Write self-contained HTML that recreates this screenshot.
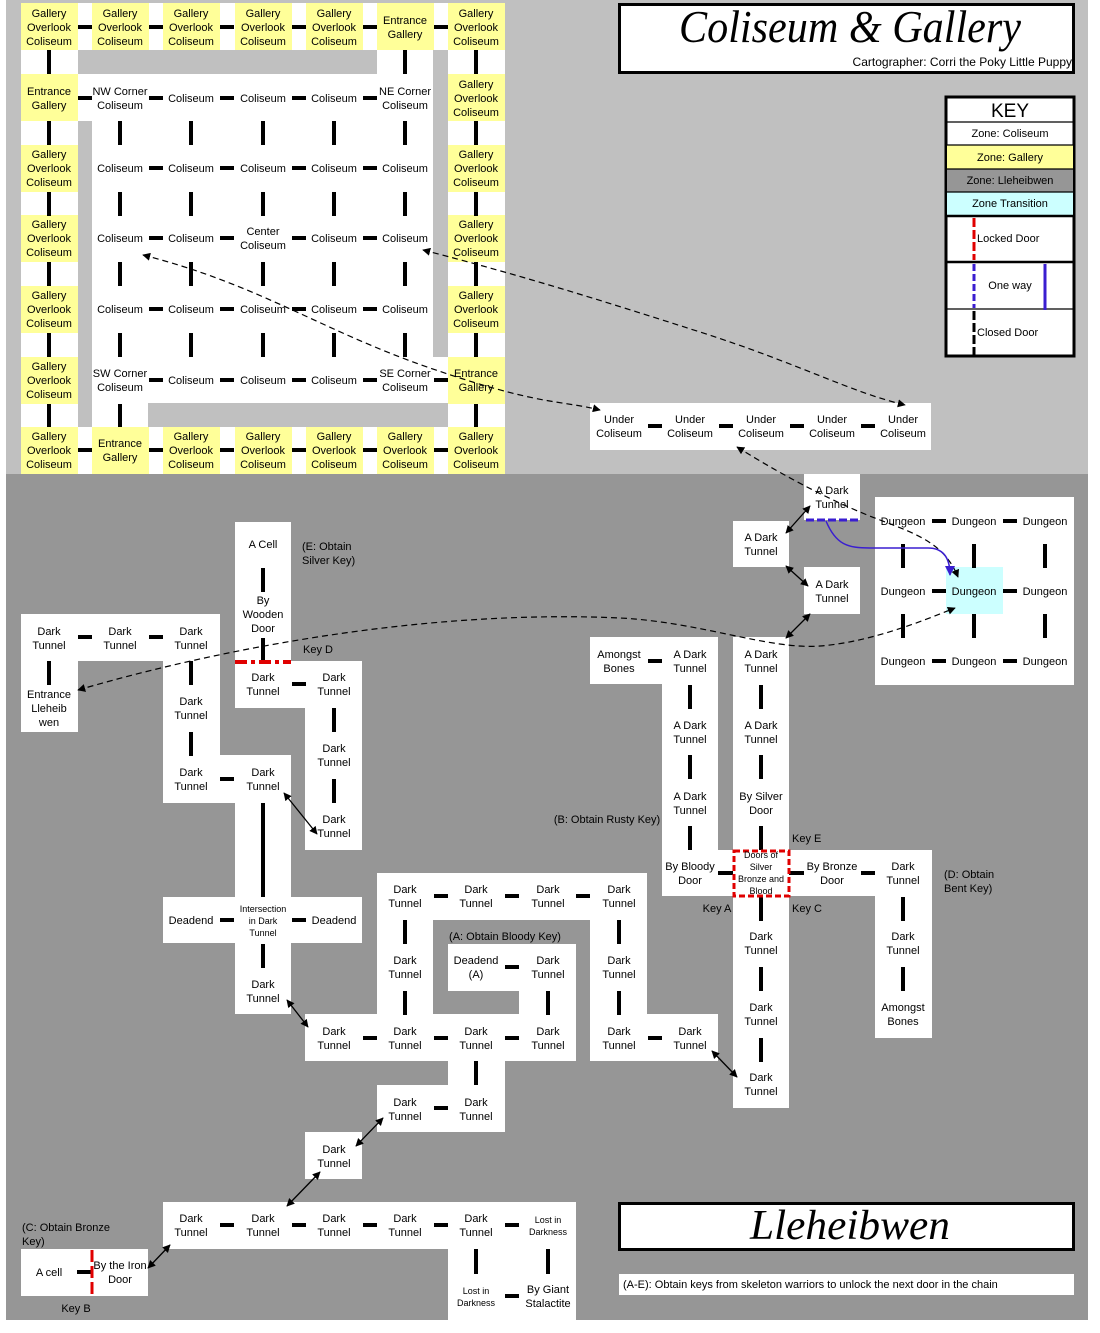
<!DOCTYPE html>
<html><head><meta charset="utf-8"><style>
html,body{margin:0;padding:0;background:#fff;}
svg{display:block;}
text{font-family:"Liberation Sans",Arial,sans-serif;font-size:11px;fill:#000;text-anchor:middle;}
.l{text-anchor:start;}
.s{font-size:9px;}
</style></head><body>
<svg width="1100" height="1333" viewBox="0 0 1100 1333" xmlns="http://www.w3.org/2000/svg">
<defs>
<marker id="ah" viewBox="0 0 10 10" refX="9" refY="5" markerWidth="8" markerHeight="8" markerUnits="userSpaceOnUse" orient="auto-start-reverse"><path d="M0,0 L10,5 L0,10 z" fill="#000"/></marker>
<marker id="ab" viewBox="0 0 10 10" refX="9" refY="5" markerWidth="10" markerHeight="10" markerUnits="userSpaceOnUse" orient="auto"><path d="M0,0 L10,5 L0,10 z" fill="#3a1ed0"/></marker>
</defs>
<!-- backgrounds -->
<rect x="6" y="0" width="1082" height="474" fill="#c0c0c0"/>
<rect x="6" y="474" width="1082" height="846" fill="#969696"/>

<!-- Coliseum white -->
<rect x="21" y="3" width="484" height="471" fill="#fff"/>
<g fill="#c0c0c0">
<rect x="78" y="50" width="299" height="24"/>
<rect x="433" y="50" width="15" height="307"/>
<rect x="78" y="121" width="14" height="306"/>
<rect x="148" y="403" width="300" height="24"/>
</g>
<!-- yellow cells -->
<g fill="#ffff99">
<rect x="21" y="3" width="57" height="47"/><rect x="92" y="3" width="57" height="47"/><rect x="163" y="3" width="57" height="47"/><rect x="235" y="3" width="57" height="47"/><rect x="306" y="3" width="57" height="47"/><rect x="377" y="3" width="57" height="47"/><rect x="448" y="3" width="57" height="47"/>
<rect x="21" y="427" width="57" height="47"/><rect x="92" y="427" width="57" height="47"/><rect x="163" y="427" width="57" height="47"/><rect x="235" y="427" width="57" height="47"/><rect x="306" y="427" width="57" height="47"/><rect x="377" y="427" width="57" height="47"/><rect x="448" y="427" width="57" height="47"/>
<rect x="21" y="74" width="57" height="47"/><rect x="21" y="145" width="57" height="47"/><rect x="21" y="215" width="57" height="47"/><rect x="21" y="286" width="57" height="47"/><rect x="21" y="357" width="57" height="47"/>
<rect x="448" y="74" width="57" height="47"/><rect x="448" y="145" width="57" height="47"/><rect x="448" y="215" width="57" height="47"/><rect x="448" y="286" width="57" height="47"/><rect x="448" y="357" width="57" height="47"/>
</g>
<!-- top bars -->
<g fill="#000">
<!-- row0 & row6 horizontals -->
<rect x="78" y="25" width="14" height="4"/><rect x="149" y="25" width="14" height="4"/><rect x="220" y="25" width="14" height="4"/><rect x="292" y="25" width="14" height="4"/><rect x="363" y="25" width="14" height="4"/><rect x="434" y="25" width="14" height="4"/>
<rect x="78" y="448" width="14" height="4"/><rect x="149" y="448" width="14" height="4"/><rect x="220" y="448" width="14" height="4"/><rect x="292" y="448" width="14" height="4"/><rect x="363" y="448" width="14" height="4"/><rect x="434" y="448" width="14" height="4"/>
<!-- row1 -->
<rect x="78" y="96" width="14" height="4"/><rect x="149" y="96" width="14" height="4"/><rect x="220" y="96" width="14" height="4"/><rect x="292" y="96" width="14" height="4"/><rect x="363" y="96" width="14" height="4"/>
<!-- rows 2-4 -->
<rect x="149" y="166" width="14" height="4"/><rect x="220" y="166" width="14" height="4"/><rect x="292" y="166" width="14" height="4"/><rect x="363" y="166" width="14" height="4"/>
<rect x="149" y="236" width="14" height="4"/><rect x="220" y="236" width="14" height="4"/><rect x="292" y="236" width="14" height="4"/><rect x="363" y="236" width="14" height="4"/>
<rect x="149" y="307" width="14" height="4"/><rect x="220" y="307" width="14" height="4"/><rect x="292" y="307" width="14" height="4"/><rect x="363" y="307" width="14" height="4"/>
<!-- row5 -->
<rect x="149" y="378" width="14" height="4"/><rect x="220" y="378" width="14" height="4"/><rect x="292" y="378" width="14" height="4"/><rect x="363" y="378" width="14" height="4"/><rect x="434" y="378" width="14" height="4"/>
<!-- verticals col49 & col476 -->
<rect x="47" y="50" width="4" height="24"/><rect x="47" y="121" width="4" height="24"/><rect x="47" y="192" width="4" height="24"/><rect x="47" y="262" width="4" height="24"/><rect x="47" y="333" width="4" height="24"/><rect x="47" y="404" width="4" height="23"/>
<rect x="474" y="50" width="4" height="24"/><rect x="474" y="121" width="4" height="24"/><rect x="474" y="192" width="4" height="24"/><rect x="474" y="262" width="4" height="24"/><rect x="474" y="333" width="4" height="24"/><rect x="474" y="404" width="4" height="23"/>
<rect x="403" y="50" width="4" height="24"/><rect x="118" y="404" width="4" height="23"/>
<!-- interior verticals -->
<rect x="118" y="121" width="4" height="24"/><rect x="189" y="121" width="4" height="24"/><rect x="261" y="121" width="4" height="24"/><rect x="332" y="121" width="4" height="24"/><rect x="403" y="121" width="4" height="24"/>
<rect x="118" y="192" width="4" height="24"/><rect x="189" y="192" width="4" height="24"/><rect x="261" y="192" width="4" height="24"/><rect x="332" y="192" width="4" height="24"/><rect x="403" y="192" width="4" height="24"/>
<rect x="118" y="262" width="4" height="24"/><rect x="189" y="262" width="4" height="24"/><rect x="261" y="262" width="4" height="24"/><rect x="332" y="262" width="4" height="24"/><rect x="403" y="262" width="4" height="24"/>
<rect x="118" y="333" width="4" height="24"/><rect x="189" y="333" width="4" height="24"/><rect x="261" y="333" width="4" height="24"/><rect x="332" y="333" width="4" height="24"/><rect x="403" y="333" width="4" height="24"/>
</g>
<!-- top texts -->
<g>
<text x="49" y="17">Gallery<tspan x="49" dy="14">Overlook</tspan><tspan x="49" dy="14">Coliseum</tspan></text>
<text x="120" y="17">Gallery<tspan x="120" dy="14">Overlook</tspan><tspan x="120" dy="14">Coliseum</tspan></text>
<text x="191" y="17">Gallery<tspan x="191" dy="14">Overlook</tspan><tspan x="191" dy="14">Coliseum</tspan></text>
<text x="263" y="17">Gallery<tspan x="263" dy="14">Overlook</tspan><tspan x="263" dy="14">Coliseum</tspan></text>
<text x="334" y="17">Gallery<tspan x="334" dy="14">Overlook</tspan><tspan x="334" dy="14">Coliseum</tspan></text>
<text x="405" y="24">Entrance<tspan x="405" dy="14">Gallery</tspan></text>
<text x="476" y="17">Gallery<tspan x="476" dy="14">Overlook</tspan><tspan x="476" dy="14">Coliseum</tspan></text>

<text x="49" y="95">Entrance<tspan x="49" dy="14">Gallery</tspan></text>
<text x="120" y="95">NW Corner<tspan x="120" dy="14">Coliseum</tspan></text>
<text x="191" y="102">Coliseum</text><text x="263" y="102">Coliseum</text><text x="334" y="102">Coliseum</text>
<text x="405" y="95">NE Corner<tspan x="405" dy="14">Coliseum</tspan></text>
<text x="476" y="88">Gallery<tspan x="476" dy="14">Overlook</tspan><tspan x="476" dy="14">Coliseum</tspan></text>

<text x="49" y="158">Gallery<tspan x="49" dy="14">Overlook</tspan><tspan x="49" dy="14">Coliseum</tspan></text>
<text x="120" y="172">Coliseum</text><text x="191" y="172">Coliseum</text><text x="263" y="172">Coliseum</text><text x="334" y="172">Coliseum</text><text x="405" y="172">Coliseum</text>
<text x="476" y="158">Gallery<tspan x="476" dy="14">Overlook</tspan><tspan x="476" dy="14">Coliseum</tspan></text>

<text x="49" y="228">Gallery<tspan x="49" dy="14">Overlook</tspan><tspan x="49" dy="14">Coliseum</tspan></text>
<text x="120" y="242">Coliseum</text><text x="191" y="242">Coliseum</text>
<text x="263" y="235">Center<tspan x="263" dy="14">Coliseum</tspan></text>
<text x="334" y="242">Coliseum</text><text x="405" y="242">Coliseum</text>
<text x="476" y="228">Gallery<tspan x="476" dy="14">Overlook</tspan><tspan x="476" dy="14">Coliseum</tspan></text>

<text x="49" y="299">Gallery<tspan x="49" dy="14">Overlook</tspan><tspan x="49" dy="14">Coliseum</tspan></text>
<text x="120" y="313">Coliseum</text><text x="191" y="313">Coliseum</text><text x="263" y="313">Coliseum</text><text x="334" y="313">Coliseum</text><text x="405" y="313">Coliseum</text>
<text x="476" y="299">Gallery<tspan x="476" dy="14">Overlook</tspan><tspan x="476" dy="14">Coliseum</tspan></text>

<text x="49" y="370">Gallery<tspan x="49" dy="14">Overlook</tspan><tspan x="49" dy="14">Coliseum</tspan></text>
<text x="120" y="377">SW Corner<tspan x="120" dy="14">Coliseum</tspan></text>
<text x="191" y="384">Coliseum</text><text x="263" y="384">Coliseum</text><text x="334" y="384">Coliseum</text>
<text x="405" y="377">SE Corner<tspan x="405" dy="14">Coliseum</tspan></text>
<text x="476" y="377">Entrance<tspan x="476" dy="14">Gallery</tspan></text>

<text x="49" y="440">Gallery<tspan x="49" dy="14">Overlook</tspan><tspan x="49" dy="14">Coliseum</tspan></text>
<text x="120" y="447">Entrance<tspan x="120" dy="14">Gallery</tspan></text>
<text x="191" y="440">Gallery<tspan x="191" dy="14">Overlook</tspan><tspan x="191" dy="14">Coliseum</tspan></text>
<text x="263" y="440">Gallery<tspan x="263" dy="14">Overlook</tspan><tspan x="263" dy="14">Coliseum</tspan></text>
<text x="334" y="440">Gallery<tspan x="334" dy="14">Overlook</tspan><tspan x="334" dy="14">Coliseum</tspan></text>
<text x="405" y="440">Gallery<tspan x="405" dy="14">Overlook</tspan><tspan x="405" dy="14">Coliseum</tspan></text>
<text x="476" y="440">Gallery<tspan x="476" dy="14">Overlook</tspan><tspan x="476" dy="14">Coliseum</tspan></text>
</g>

<!-- Title box -->
<rect x="619.5" y="4.5" width="454" height="68" fill="#fff" stroke="#000" stroke-width="3"/>
<text x="850" y="42" style="font-family:'Liberation Serif',serif;font-style:italic;font-size:46px;" textLength="342" lengthAdjust="spacingAndGlyphs">Coliseum &amp; Gallery</text>
<text x="1072" y="66" style="text-anchor:end;font-size:12px;">Cartographer: Corri the Poky Little Puppy</text>

<!-- KEY -->
<rect x="946" y="97" width="128" height="259" fill="#fff" stroke="#000" stroke-width="3"/>
<rect x="947" y="145" width="126" height="24" fill="#ffff99"/>
<rect x="947" y="169" width="126" height="23" fill="#969696"/>
<rect x="947" y="192" width="126" height="23" fill="#ccffff"/>
<g stroke="#000" stroke-width="1.2">
<line x1="946" y1="122" x2="1074" y2="122"/><line x1="946" y1="145" x2="1074" y2="145"/><line x1="946" y1="169" x2="1074" y2="169"/><line x1="946" y1="192" x2="1074" y2="192"/>
</g>
<g stroke="#000" stroke-width="2.5">
<line x1="946" y1="216" x2="1074" y2="216"/><line x1="946" y1="262" x2="1074" y2="262"/>
</g>
<line x1="946" y1="309" x2="1074" y2="309" stroke="#000" stroke-width="1.2"/>
<text x="1010" y="117" style="font-size:19px;">KEY</text>
<text x="1010" y="137">Zone: Coliseum</text>
<text x="1010" y="161">Zone: Gallery</text>
<text x="1010" y="184">Zone: Lleheibwen</text>
<text x="1010" y="207">Zone Transition</text>
<line x1="974" y1="218" x2="974" y2="260" stroke="#e00000" stroke-width="3" stroke-dasharray="9,3"/>
<text class="l" x="977" y="242">Locked Door</text>
<line x1="974" y1="264" x2="974" y2="308" stroke="#3a1ed0" stroke-width="3" stroke-dasharray="7,3"/>
<line x1="1045" y1="264" x2="1045" y2="310" stroke="#3a1ed0" stroke-width="3"/>
<text x="1010" y="289">One way</text>
<line x1="974" y1="311" x2="974" y2="355" stroke="#000" stroke-width="3" stroke-dasharray="9,3"/>
<text class="l" x="977" y="336">Closed Door</text>

<!-- Under coliseum -->
<rect x="590" y="403" width="341" height="47" fill="#fff"/>
<g fill="#000">
<rect x="648" y="424" width="14" height="4"/><rect x="719" y="424" width="14" height="4"/><rect x="790" y="424" width="14" height="4"/><rect x="861" y="424" width="14" height="4"/>
</g>
<text x="619" y="423">Under<tspan x="619" dy="14">Coliseum</tspan></text>
<text x="690" y="423">Under<tspan x="690" dy="14">Coliseum</tspan></text>
<text x="761" y="423">Under<tspan x="761" dy="14">Coliseum</tspan></text>
<text x="832" y="423">Under<tspan x="832" dy="14">Coliseum</tspan></text>
<text x="903" y="423">Under<tspan x="903" dy="14">Coliseum</tspan></text>

<!-- bottom white regions -->
<g fill="#fff">
<rect x="804" y="474" width="56" height="46"/>
<rect x="733" y="521" width="56" height="46"/>
<rect x="804" y="567" width="56" height="47"/>
<rect x="875" y="497" width="199" height="188"/>
<rect x="235" y="522" width="56" height="186"/><rect x="235" y="661" width="127" height="47"/><rect x="305" y="661" width="57" height="189"/>
<rect x="21" y="614" width="199" height="47"/><rect x="21" y="661" width="57" height="71"/><rect x="163" y="614" width="57" height="189"/><rect x="163" y="755" width="128" height="48"/><rect x="235" y="755" width="56" height="259"/><rect x="163" y="897" width="199" height="46"/>
<rect x="377" y="873" width="270" height="47"/><rect x="377" y="873" width="56" height="188"/><rect x="305" y="1014" width="271" height="47"/><rect x="448" y="944" width="71" height="47"/><rect x="519" y="944" width="57" height="117"/><rect x="590" y="873" width="57" height="188"/><rect x="590" y="1014" width="128" height="47"/><rect x="448" y="1061" width="57" height="71"/><rect x="377" y="1085" width="128" height="47"/>
<rect x="305" y="1132" width="57" height="47"/>
<rect x="163" y="1202" width="413" height="47"/><rect x="448" y="1249" width="128" height="71"/>
<rect x="21" y="1249" width="127" height="47"/>
<rect x="590" y="637" width="128" height="47"/><rect x="662" y="637" width="56" height="259"/><rect x="733" y="637" width="56" height="471"/><rect x="662" y="850" width="270" height="46"/><rect x="875" y="850" width="57" height="188"/>
</g>
<rect x="946" y="567" width="57" height="47" fill="#ccffff"/>

<!-- bottom bars -->
<g fill="#000">
<!-- dungeon -->
<rect x="932" y="519" width="14" height="4"/><rect x="1003" y="519" width="14" height="4"/>
<rect x="932" y="589" width="14" height="4"/><rect x="1003" y="589" width="14" height="4"/>
<rect x="932" y="659" width="14" height="4"/><rect x="1003" y="659" width="14" height="4"/>
<rect x="901" y="544" width="4" height="24"/><rect x="972" y="544" width="4" height="24"/><rect x="1043" y="544" width="4" height="24"/>
<rect x="901" y="614" width="4" height="24"/><rect x="972" y="614" width="4" height="24"/><rect x="1043" y="614" width="4" height="24"/>
<!-- region A -->
<rect x="261" y="568" width="4" height="24"/><rect x="261" y="638" width="4" height="23"/>
<rect x="292" y="682" width="14" height="4"/>
<rect x="332" y="708" width="4" height="24"/><rect x="332" y="779" width="4" height="24"/>
<!-- region B -->
<rect x="78" y="635" width="14" height="4"/><rect x="149" y="635" width="14" height="4"/>
<rect x="47" y="661" width="4" height="24"/>
<rect x="189" y="661" width="4" height="24"/><rect x="189" y="732" width="4" height="24"/>
<rect x="220" y="777" width="14" height="4"/>
<rect x="261" y="803" width="4" height="94"/>
<rect x="220" y="918" width="14" height="4"/><rect x="292" y="918" width="14" height="4"/>
<rect x="261" y="944" width="4" height="24"/>
<!-- region C -->
<rect x="434" y="894" width="14" height="4"/><rect x="505" y="894" width="14" height="4"/><rect x="576" y="894" width="14" height="4"/>
<rect x="403" y="920" width="4" height="24"/><rect x="403" y="991" width="4" height="24"/>
<rect x="505" y="965" width="14" height="4"/>
<rect x="546" y="991" width="4" height="24"/>
<rect x="617" y="920" width="4" height="24"/><rect x="617" y="991" width="4" height="24"/>
<rect x="363" y="1036" width="14" height="4"/><rect x="434" y="1036" width="14" height="4"/><rect x="505" y="1036" width="14" height="4"/><rect x="648" y="1036" width="14" height="4"/>
<rect x="474" y="1061" width="4" height="24"/>
<rect x="434" y="1106" width="14" height="4"/>
<!-- row 1225 -->
<rect x="220" y="1223" width="14" height="4"/><rect x="292" y="1223" width="14" height="4"/><rect x="363" y="1223" width="14" height="4"/><rect x="434" y="1223" width="14" height="4"/><rect x="505" y="1223" width="14" height="4"/>
<rect x="474" y="1249" width="4" height="25"/><rect x="546" y="1249" width="4" height="25"/>
<rect x="505" y="1294" width="14" height="4"/>
<rect x="77" y="1270" width="14" height="4"/>
<!-- right region -->
<rect x="648" y="659" width="14" height="4"/>
<rect x="688" y="685" width="4" height="24"/><rect x="688" y="755" width="4" height="24"/><rect x="688" y="826" width="4" height="24"/>
<rect x="759" y="685" width="4" height="24"/><rect x="759" y="755" width="4" height="24"/><rect x="759" y="826" width="4" height="24"/>
<rect x="759" y="897" width="4" height="24"/><rect x="759" y="967" width="4" height="24"/><rect x="759" y="1038" width="4" height="24"/>
<rect x="718" y="871" width="15" height="4"/><rect x="789" y="871" width="15" height="4"/><rect x="861" y="871" width="14" height="4"/>
<rect x="901" y="897" width="4" height="24"/><rect x="901" y="967" width="4" height="24"/>
</g>

<!-- doors -->
<line x1="235" y1="662" x2="291" y2="662" stroke="#e00000" stroke-width="4" stroke-dasharray="12,4,4,4"/>
<rect x="734" y="851" width="55" height="45" fill="none" stroke="#e00000" stroke-width="3" stroke-dasharray="6,3"/>
<line x1="92" y1="1250" x2="92" y2="1296" stroke="#e00000" stroke-width="3" stroke-dasharray="12,4"/>
<line x1="806" y1="520" x2="860" y2="520" stroke="#3a1ed0" stroke-width="3" stroke-dasharray="8,3"/>

<!-- bottom texts -->
<g>
<text x="832" y="494">A Dark<tspan x="832" dy="14">Tunnel</tspan></text>
<text x="761" y="541">A Dark<tspan x="761" dy="14">Tunnel</tspan></text>
<text x="832" y="588">A Dark<tspan x="832" dy="14">Tunnel</tspan></text>
<text x="903" y="525">Dungeon</text><text x="974" y="525">Dungeon</text><text x="1045" y="525">Dungeon</text>
<text x="903" y="595">Dungeon</text><text x="974" y="595">Dungeon</text><text x="1045" y="595">Dungeon</text>
<text x="903" y="665">Dungeon</text><text x="974" y="665">Dungeon</text><text x="1045" y="665">Dungeon</text>

<text x="263" y="548">A Cell</text>
<text class="l" x="302" y="550">(E: Obtain<tspan x="302" dy="14">Silver Key)</tspan></text>
<text x="263" y="604">By<tspan x="263" dy="14">Wooden</tspan><tspan x="263" dy="14">Door</tspan></text>
<text class="l" x="303" y="653">Key D</text>
<text x="263" y="681">Dark<tspan x="263" dy="14">Tunnel</tspan></text>
<text x="334" y="681">Dark<tspan x="334" dy="14">Tunnel</tspan></text>
<text x="334" y="752">Dark<tspan x="334" dy="14">Tunnel</tspan></text>
<text x="334" y="823">Dark<tspan x="334" dy="14">Tunnel</tspan></text>

<text x="49" y="635">Dark<tspan x="49" dy="14">Tunnel</tspan></text>
<text x="120" y="635">Dark<tspan x="120" dy="14">Tunnel</tspan></text>
<text x="191" y="635">Dark<tspan x="191" dy="14">Tunnel</tspan></text>
<text x="49" y="698">Entrance<tspan x="49" dy="14">Lleheib</tspan><tspan x="49" dy="14">wen</tspan></text>
<text x="191" y="705">Dark<tspan x="191" dy="14">Tunnel</tspan></text>
<text x="191" y="776">Dark<tspan x="191" dy="14">Tunnel</tspan></text>
<text x="263" y="776">Dark<tspan x="263" dy="14">Tunnel</tspan></text>
<text x="191" y="924">Deadend</text>
<text class="s" x="263" y="912">Intersection<tspan x="263" dy="12">in Dark</tspan><tspan x="263" dy="12">Tunnel</tspan></text>
<text x="334" y="924">Deadend</text>
<text x="263" y="988">Dark<tspan x="263" dy="14">Tunnel</tspan></text>

<text x="405" y="893">Dark<tspan x="405" dy="14">Tunnel</tspan></text>
<text x="476" y="893">Dark<tspan x="476" dy="14">Tunnel</tspan></text>
<text x="548" y="893">Dark<tspan x="548" dy="14">Tunnel</tspan></text>
<text x="619" y="893">Dark<tspan x="619" dy="14">Tunnel</tspan></text>
<text x="505" y="940">(A: Obtain Bloody Key)</text>
<text x="405" y="964">Dark<tspan x="405" dy="14">Tunnel</tspan></text>
<text x="476" y="964">Deadend<tspan x="476" dy="14">(A)</tspan></text>
<text x="548" y="964">Dark<tspan x="548" dy="14">Tunnel</tspan></text>
<text x="619" y="964">Dark<tspan x="619" dy="14">Tunnel</tspan></text>
<text x="334" y="1035">Dark<tspan x="334" dy="14">Tunnel</tspan></text>
<text x="405" y="1035">Dark<tspan x="405" dy="14">Tunnel</tspan></text>
<text x="476" y="1035">Dark<tspan x="476" dy="14">Tunnel</tspan></text>
<text x="548" y="1035">Dark<tspan x="548" dy="14">Tunnel</tspan></text>
<text x="619" y="1035">Dark<tspan x="619" dy="14">Tunnel</tspan></text>
<text x="690" y="1035">Dark<tspan x="690" dy="14">Tunnel</tspan></text>
<text x="405" y="1106">Dark<tspan x="405" dy="14">Tunnel</tspan></text>
<text x="476" y="1106">Dark<tspan x="476" dy="14">Tunnel</tspan></text>
<text x="334" y="1153">Dark<tspan x="334" dy="14">Tunnel</tspan></text>

<text x="191" y="1222">Dark<tspan x="191" dy="14">Tunnel</tspan></text>
<text x="263" y="1222">Dark<tspan x="263" dy="14">Tunnel</tspan></text>
<text x="334" y="1222">Dark<tspan x="334" dy="14">Tunnel</tspan></text>
<text x="405" y="1222">Dark<tspan x="405" dy="14">Tunnel</tspan></text>
<text x="476" y="1222">Dark<tspan x="476" dy="14">Tunnel</tspan></text>
<text class="s" x="548" y="1223">Lost in<tspan x="548" dy="12">Darkness</tspan></text>
<text class="s" x="476" y="1294">Lost in<tspan x="476" dy="12">Darkness</tspan></text>
<text x="548" y="1293">By Giant<tspan x="548" dy="14">Stalactite</tspan></text>
<text class="l" x="22" y="1231">(C: Obtain Bronze<tspan x="22" dy="14">Key)</tspan></text>
<text x="49" y="1276">A cell</text>
<text x="120" y="1269">By the Iron<tspan x="120" dy="14">Door</tspan></text>
<text x="76" y="1312">Key B</text>

<text x="619" y="658">Amongst<tspan x="619" dy="14">Bones</tspan></text>
<text x="690" y="658">A Dark<tspan x="690" dy="14">Tunnel</tspan></text>
<text x="761" y="658">A Dark<tspan x="761" dy="14">Tunnel</tspan></text>
<text x="690" y="729">A Dark<tspan x="690" dy="14">Tunnel</tspan></text>
<text x="761" y="729">A Dark<tspan x="761" dy="14">Tunnel</tspan></text>
<text x="690" y="800">A Dark<tspan x="690" dy="14">Tunnel</tspan></text>
<text x="761" y="800">By Silver<tspan x="761" dy="14">Door</tspan></text>
<text x="607" y="823">(B: Obtain Rusty Key)</text>
<text class="l" x="792" y="842">Key E</text>
<text x="690" y="870">By Bloody<tspan x="690" dy="14">Door</tspan></text>
<text class="s" x="761" y="858">Doors of<tspan x="761" dy="12">Silver</tspan><tspan x="761" dy="12">Bronze and</tspan><tspan x="761" dy="12">Blood</tspan></text>
<text x="832" y="870">By Bronze<tspan x="832" dy="14">Door</tspan></text>
<text x="903" y="870">Dark<tspan x="903" dy="14">Tunnel</tspan></text>
<text class="l" x="944" y="878">(D: Obtain<tspan x="944" dy="14">Bent Key)</tspan></text>
<text x="717" y="912">Key A</text>
<text class="l" x="792" y="912">Key C</text>
<text x="761" y="940">Dark<tspan x="761" dy="14">Tunnel</tspan></text>
<text x="903" y="940">Dark<tspan x="903" dy="14">Tunnel</tspan></text>
<text x="761" y="1011">Dark<tspan x="761" dy="14">Tunnel</tspan></text>
<text x="903" y="1011">Amongst<tspan x="903" dy="14">Bones</tspan></text>
<text x="761" y="1081">Dark<tspan x="761" dy="14">Tunnel</tspan></text>
</g>

<!-- double arrows -->
<g stroke="#000" stroke-width="1.3" fill="none" marker-start="url(#ah)" marker-end="url(#ah)">
<line x1="810" y1="506" x2="786" y2="533"/>
<line x1="786" y1="566" x2="808" y2="586"/>
<line x1="810" y1="614" x2="786" y2="638"/>
<line x1="284" y1="793" x2="317" y2="834"/>
<line x1="287" y1="1000" x2="308" y2="1027"/>
<line x1="712" y1="1051" x2="737" y2="1077"/>
<line x1="383" y1="1118" x2="356" y2="1146"/>
<line x1="320" y1="1172" x2="287" y2="1206"/>
<line x1="148" y1="1268" x2="170" y2="1245"/>
</g>

<!-- dashed long connectors -->
<g stroke="#000" stroke-width="1.2" fill="none" stroke-dasharray="6,4" marker-start="url(#ah)" marker-end="url(#ah)">
<path d="M143,255 C260,285 320,330 430,368 S560,400 600,410"/>
<path d="M423,250 C520,275 600,300 700,332 S850,392 905,405"/>
<path d="M737,447 C790,480 840,505 880,520 S945,545 958,577"/>
<path d="M78,690 C250,640 450,610 620,618 C700,622 770,650 820,646 C870,642 920,622 955,608"/>
</g>
<!-- blue one-way curve -->
<path d="M826,521 C836,545 848,548 870,548 L928,548 C945,548 950,560 950,575" stroke="#3a1ed0" stroke-width="1.5" fill="none" marker-end="url(#ab)"/>

<!-- Lleheibwen title -->
<rect x="619.5" y="1203.5" width="454" height="46" fill="#fff" stroke="#000" stroke-width="3"/>
<text x="850" y="1239" style="font-family:'Liberation Serif',serif;font-style:italic;font-size:42px;" textLength="200" lengthAdjust="spacingAndGlyphs">Lleheibwen</text>
<rect x="619" y="1274" width="455" height="21" fill="#fff"/>
<text class="l" x="623" y="1288">(A-E):  Obtain keys from skeleton warriors to unlock the next door in the chain</text>
</svg>
</body></html>
